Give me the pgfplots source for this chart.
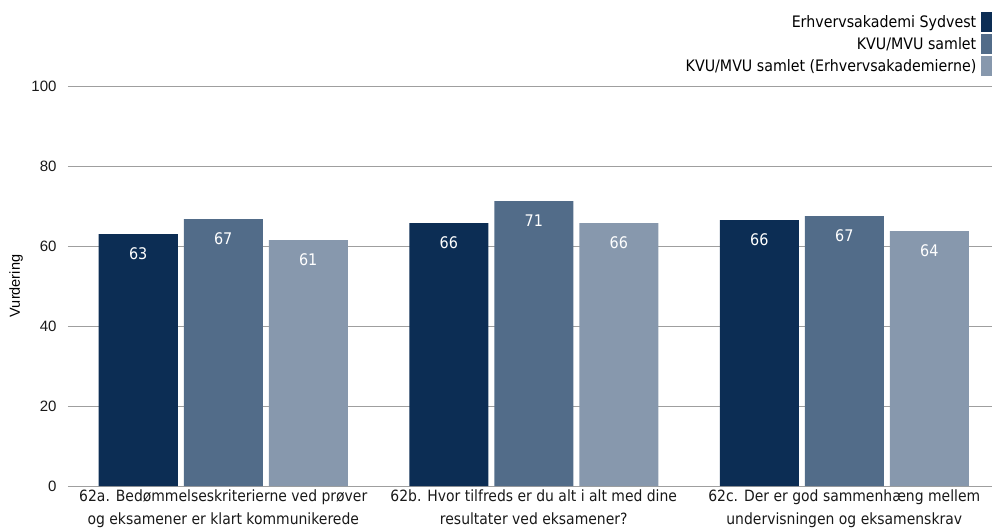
\documentclass[border=0pt]{standalone}
\usepackage{pgfplots}
\pgfplotsset{compat=1.18}
\usepackage{fontspec}
\setmainfont{Liberation Sans}
\newfontfamily\tahoma{DejaVu Sans}[FakeStretch=0.9]
\definecolor{cA}{HTML}{0C2D54}
\definecolor{cB}{HTML}{526C89}
\definecolor{cC}{HTML}{8798AD}
\begin{document}
\begin{tikzpicture}
\path[use as bounding box] (-68pt,-45pt) rectangle (924pt,486pt);
\begin{axis}[
    scale only axis,
    width=931.5pt, height=400pt,
    xmin=-0.5, xmax=2.5, ymin=0, ymax=100,
    ytick={0,20,...,100},
    xtick={0,1,2},
    xticklabels={
        {62a. Bedømmelseskriterierne ved prøver\\og eksamener er klart kommunikerede},
        {62b. Hvor tilfreds er du alt i alt med dine\\resultater ved eksamener?},
        {62c. Der er god sammenhæng mellem\\undervisningen og eksamenskrav}},
    xticklabel style={align=center, font=\tahoma\fontsize{15.5}{23}\selectfont, text=black!90},
    yticklabel style={font=\fontsize{15}{16}\selectfont, text=black!90, xshift=-8pt},
    /pgf/number format/assume math mode=true,
    major tick length=0pt,
    axis line style={draw=none},
    ymajorgrids,
    grid style={gray!75, line width=0.9pt},
    ylabel={Vurdering},
    ylabel style={at={(axis description cs:-0.0558,0.5)}, anchor=center, font=\fontsize{14.5}{16}\selectfont},
    ybar=6pt, bar width=79pt,
    point meta=explicit symbolic,
    nodes near coords,
    nodes near coords align={center},
    every node near coord/.append style={anchor=center, yshift=-20pt, text=white, font=\tahoma\fontsize{16}{18}\selectfont},
    legend plot pos=right,
    legend cell align=right,
    legend style={at={(axis description cs:1,1)}, anchor=south east, xshift=-7.5pt, yshift=10pt,
        draw=none, fill=none, inner sep=0pt, row sep=2pt,
        font=\tahoma\fontsize{15.8}{18}\selectfont,
        nodes={inner xsep=4.5pt, inner ysep=0pt}},
    legend image code/.code={\fill[#1] (4pt,-10pt) rectangle (15pt,10pt);},
]
\addplot[fill=cA, draw=none] coordinates {(0,63.0) [63] (1,65.75) [66] (2,66.5) [66]};
\addlegendentry{Erhvervsakademi Sydvest}
\addplot[fill=cB, draw=none] coordinates {(0,66.75) [67] (1,71.25) [71] (2,67.5) [67]};
\addlegendentry{KVU/MVU samlet}
\addplot[fill=cC, draw=none] coordinates {(0,61.5) [61] (1,65.75) [66] (2,63.75) [64]};
\addlegendentry{KVU/MVU samlet (Erhvervsakademierne)}
\end{axis}
\end{tikzpicture}
\end{document}
